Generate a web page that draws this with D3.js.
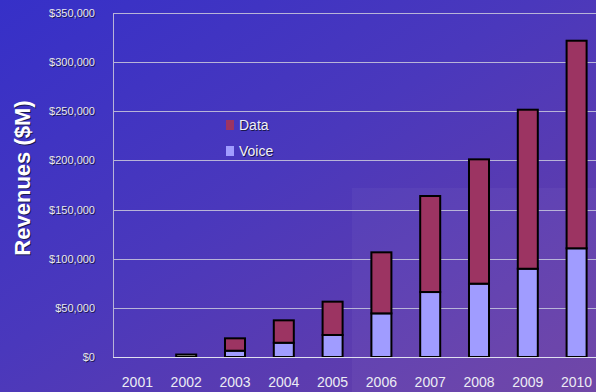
<!DOCTYPE html>
<html>
<head>
<meta charset="utf-8">
<script src="https://cdn.jsdelivr.net/npm/d3@7"></script>
<style>
  html, body { margin: 0; padding: 0; background: #3a32c6; }
  svg { display: block; font-family: "Liberation Sans", Arial, sans-serif; }
</style>
</head>
<body>
<script>
const width = 596;
const height = 392;
const margin = { top: 13, right: -5, bottom: 35, left: 113 };

const years = ['2001', '2002', '2003', '2004', '2005', '2006', '2007', '2008', '2009', '2010'];
const voice = [0, 2500, 6400, 14500, 22400, 44400, 66100, 74600, 89800, 110600];
const data = [0, 0, 12600, 22800, 33900, 62100, 97700, 126500, 161800, 211200];
const yTicks = [0, 50000, 100000, 150000, 200000, 250000, 300000, 350000];
const seriesNames = ['Data', 'Voice'];

const color = (name) => ({ Data: '#9c3462', Voice: '#a09cff' })[name];

const svg = d3.select('body')
  .append('svg')
    .attr('width', width)
    .attr('height', height);

const defs = svg.append('defs');
const bg = defs.append('linearGradient')
  .attr('id', 'bg')
  .attr('x1', 0).attr('y1', 0).attr('x2', 1).attr('y2', 1);
bg.append('stop').attr('offset', '0%').attr('stop-color', '#3630c8');
bg.append('stop').attr('offset', '45%').attr('stop-color', '#4a38bc');
bg.append('stop').attr('offset', '100%').attr('stop-color', '#6c40a4');

svg.append('rect')
  .attr('width', width)
  .attr('height', height)
  .attr('fill', 'url(#bg)');

// lighter panel in the lower right
svg.append('rect')
  .attr('x', 352)
  .attr('y', 188)
  .attr('width', width - 352)
  .attr('height', height - 188)
  .attr('fill', '#ffffff')
  .attr('opacity', 0.04);

const x = d3.scaleBand()
  .domain(years)
  .range([margin.left, width - margin.right])
  .paddingInner(0.59)
  .paddingOuter(0.295);

const y = d3.scaleLinear()
  .domain([0, 350000])
  .range([height - margin.bottom, margin.top]);

// gridlines
svg.append('g')
  .selectAll('line')
  .data(yTicks.filter(d => d > 0))
  .join('line')
    .attr('x1', margin.left)
    .attr('x2', width)
    .attr('y1', d => Math.round(y(d)) + 0.5)
    .attr('y2', d => Math.round(y(d)) + 0.5)
    .attr('stroke', '#b8b4d8')
    .attr('stroke-width', 1);

svg.append('line')
  .attr('x1', margin.left + 0.5)
  .attr('x2', margin.left + 0.5)
  .attr('y1', y(350000))
  .attr('y2', y(0))
  .attr('stroke', '#b8b4d8');

// stacked bars
const rows = years.map((year, i) => ({ year, Voice: voice[i], Data: data[i] }));
const stack = d3.stack().keys(['Voice', 'Data'])(rows);

svg.append('g')
  .selectAll('g')
  .data(stack)
  .join('g')
    .attr('fill', d => color(d.key))
  .selectAll('rect')
  .data(d => d.filter(s => s[1] > s[0]))
  .join('rect')
    .attr('x', d => x(d.data.year))
    .attr('y', d => y(d[1]))
    .attr('width', x.bandwidth())
    .attr('height', d => y(d[0]) - y(d[1]))
    .attr('fill', d => d.data.year === '2002' ? '#d8d8d0' : null)
    .attr('stroke', '#000')
    .attr('stroke-width', 2);

// baseline
svg.append('line')
  .attr('x1', margin.left)
  .attr('x2', width)
  .attr('y1', y(0) + 0.5)
  .attr('y2', y(0) + 0.5)
  .attr('stroke', '#e0e0f0');

// y tick labels with shadow
const yLabel = d3.format('$,');
const yAxis = svg.append('g');
[['#1a1850', 1], ['#e8e8f0', 0]].forEach(([fill, off]) => {
  yAxis.append('g')
    .selectAll('text')
    .data(yTicks)
    .join('text')
      .attr('x', 95 + off)
      .attr('y', d => y(d) + 4 + off)
      .attr('text-anchor', 'end')
      .attr('font-size', 11)
      .attr('fill', fill)
      .text(d => yLabel(d));
});

// x labels
svg.append('g')
  .selectAll('text')
  .data(years)
  .join('text')
    .attr('x', d => x(d) + x.bandwidth() / 2)
    .attr('y', 387)
    .attr('text-anchor', 'middle')
    .attr('font-size', 14)
    .attr('fill', '#ececf4')
    .text(d => d);

// y title
[['#1a1850', 1], ['#ffffff', 0]].forEach(([fill, off]) => {
  svg.append('text')
    .attr('transform', `translate(${30 + off}, ${178 + off}) rotate(-90)`)
    .attr('text-anchor', 'middle')
    .attr('font-size', 22)
    .attr('font-weight', 'bold')
    .attr('fill', fill)
    .text('Revenues ($M)');
});

// legend
const legend = svg.append('g')
  .selectAll('g')
  .data(seriesNames)
  .join('g')
    .attr('transform', (d, i) => `translate(226, ${120 + i * 26})`);

legend.append('rect')
  .attr('width', 8)
  .attr('height', 10)
  .attr('fill', d => color(d));

[['#1a1850', 1], ['#f0f0f8', 0]].forEach(([fill, off]) => {
  legend.append('text')
    .attr('x', 13 + off)
    .attr('y', 10 + off)
    .attr('font-size', 14)
    .attr('fill', fill)
    .text(d => d);
});
</script>
</body>
</html>
